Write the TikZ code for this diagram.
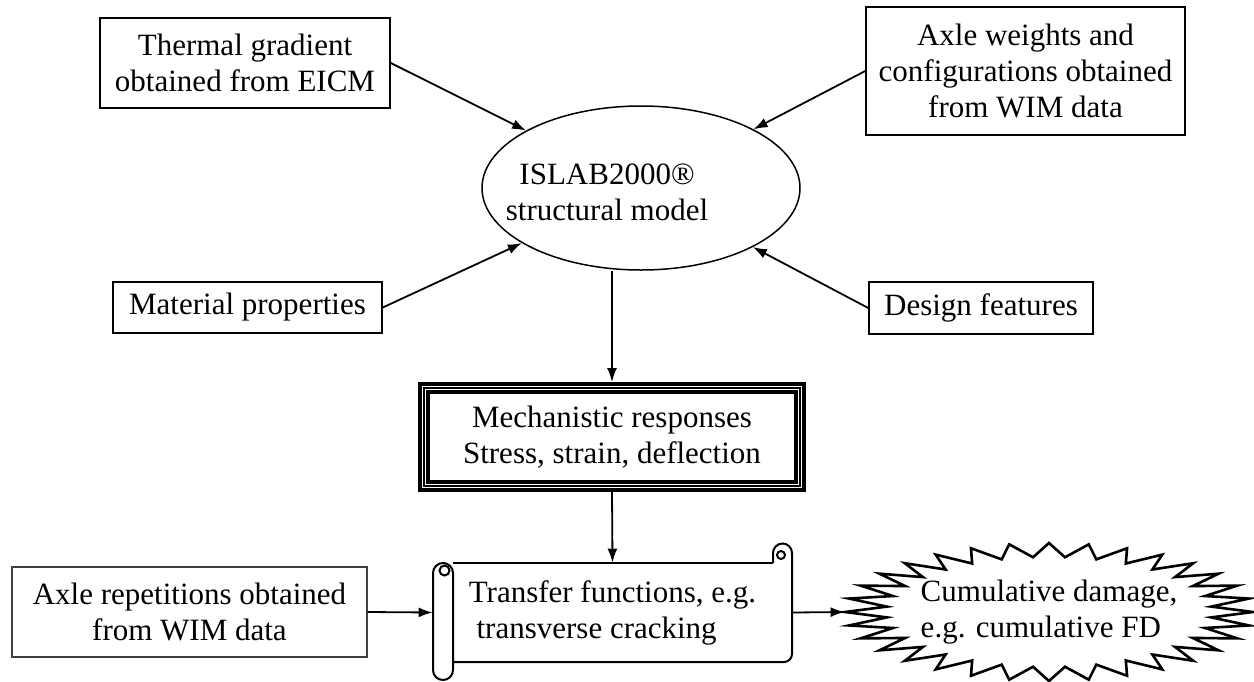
\documentclass[tikz,border=0pt]{standalone}
\usepackage{fontspec}
\setmainfont{Liberation Serif}
\usetikzlibrary{shapes.geometric,arrows.meta}

\begin{document}
\begin{tikzpicture}[x=0.5pt,y=-0.5pt,
	font=\fontsize{15.5}{18}\selectfont,
	inbox/.style={draw, line width=0.75pt, align=center, inner sep=0pt},
	arr/.style={-{Latex[length=7pt,width=5pt]}, line width=0.9pt},
	burst/.style={line width=1.3pt, line join=miter}]
	\useasboundingbox (0,0) rectangle (1254,681);
	% inputs round the model
	\node[inbox, minimum width=145pt, minimum height=45pt] (thermal) at (245,63) {Thermal gradient\\obtained from EICM};
	\node[inbox, minimum width=159.5pt, minimum height=64pt] (axle) at (1025.5,71) {Axle weights and\\configurations obtained\\from WIM data};
	\node[draw, ellipse, line width=0.75pt, inner sep=0pt, minimum width=159pt, minimum height=82pt] (model) at (641,188) {};
	\node[align=center, inner sep=0pt] (modeltext) at (607,192) {ISLAB2000\textregistered\\structural model};
	\node[inbox, minimum width=134.5pt, minimum height=25.5pt] (material) at (247.5,307.5) {Material properties};
	\node[inbox, minimum width=112pt, minimum height=26pt] (design) at (981,308) {Design features};
	% triple frame
	\node[inbox, line width=1pt, minimum width=188pt, minimum height=49pt, outer sep=3pt,
		preaction={draw, line width=6pt}, preaction={draw=white, line width=2.4pt}] (mech) at (612,437) {Mechanistic responses\\Stress, strain, deflection};
	\node[inbox, draw=black!75, line width=0.6pt, minimum width=177.5pt, minimum height=45pt] (repet) at (189.5,612) {Axle repetitions obtained\\from WIM data};
	\node[align=left, inner sep=0pt, minimum width=179.5pt, minimum height=49.5pt] (transfer) at (612.5,612.5) {Transfer functions, e.g.\\\ transverse cracking};
	\node[align=left, inner sep=0pt, minimum width=204pt, minimum height=69pt] (damage) at (1049,612) {Cumulative damage,\\e.g. cumulative FD};

	% scroll
	\begin{scope}[shift={(transfer.center)}, line width=1pt]
		\draw (-159.5,-49.5) -- (160.5,-49.5);
		\draw[rounded corners=4pt] (179.5,-59.5) -- (179.5,49.5) -- (-159.5,49.5);
		\draw (160.5,-49.5) -- (160.5,-59.5) arc[start angle=180, end angle=360, radius=9.5];
		\draw (168.5,-57.5) circle[radius=4];
		\draw[rounded corners=5pt] (-179.5,-49.5) rectangle (-159.5,67.5);
		\draw (-168,-42) circle[radius=5];
	\end{scope}

	% starburst
	\begin{scope}[shift={(damage.center)}]
		\draw[burst] (0:204 and 69) foreach \k in {0,...,31} { -- ({\k*11.25+5.625}:163 and 55) -- ({\k*11.25+11.25}:204 and 69) } -- cycle;
	\end{scope}

	\draw[arr] (thermal.east) -- (model);
	\draw[arr] (axle.west) -- (model);
	\draw[arr] (material.east) -- (model);
	\draw[arr] (design.west) -- (model);
	\draw[arr] (model.south -| mech.north) -- (mech.north);
	\draw[arr] (mech.south) -- (transfer.north);
	\draw[arr] (repet.east) -- (transfer.west);
	\draw[arr] (transfer.east) -- (damage.west);
\end{tikzpicture}
\end{document}
